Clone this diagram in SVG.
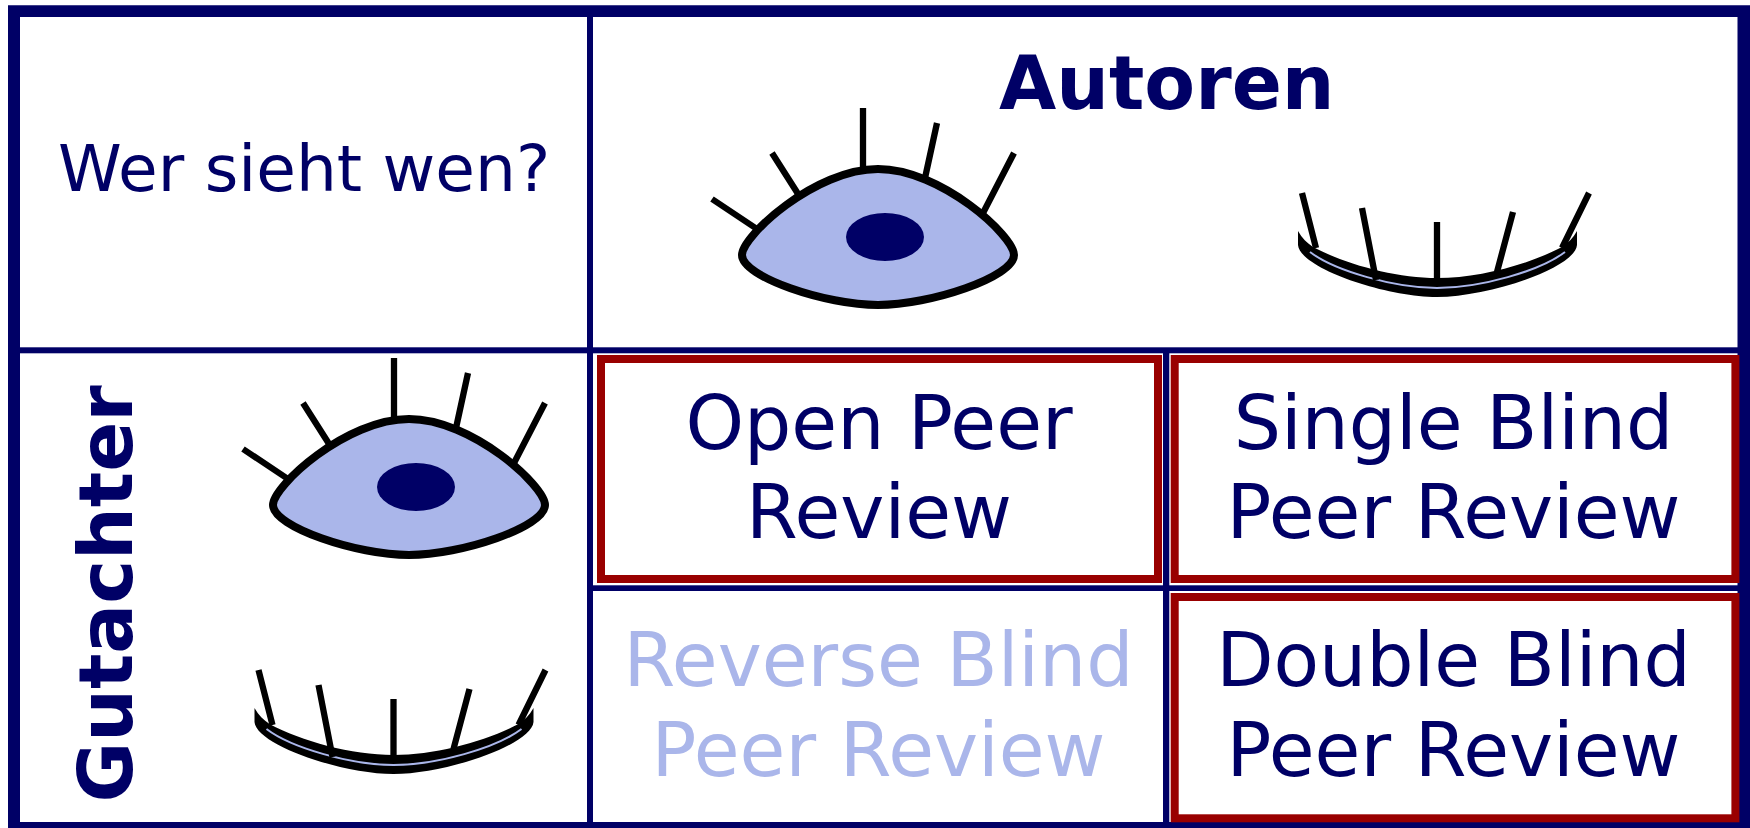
<svg xmlns="http://www.w3.org/2000/svg" width="1750" height="828" viewBox="0 0 1750 828">
<style>
text{font-family:"DejaVu Sans",Verdana,sans-serif;fill:#000066}
.c{text-anchor:middle;font-size:74.5px}
.b{font-weight:bold;font-size:74px}
.lash{stroke:#000;stroke-width:6.300;fill:none}
.lid{fill:#aab6ea;stroke:#000;stroke-width:8;stroke-linejoin:round}
.red{fill:none;stroke:#990000;stroke-width:8}
.nav{fill:#000066}
</style>
<defs>
<g id="open">
<path class="lid" d="M742 255C742 236 815 169 878 169C941 169 1014 236 1014 255C1014 277 930 305 878 305C826 305 742 277 742 255Z"/>
<ellipse class="nav" cx="885" cy="237" rx="39" ry="24"/>
<path class="lash" d="M863 108V168M937 123L925 178M1014 153L983 213M772 153L800 197M712 199L757 229"/>
</g>
<g id="closed">
<path fill="#000" d="M1298 231V245C1300 268 1385 297 1437 297C1489 297 1575 268 1577 245V231C1573 238 1568 243 1562 247C1530 264 1480 278 1437 278C1395 278 1345 264 1313 247C1307 243 1302 238 1298 231Z"/>
<path d="M1310 252C1335 271 1395 288 1437 288C1480 288 1540 271 1565 252" fill="none" stroke="#aab6ea" stroke-width="2"/>
<path class="lash" d="M1302 193L1316 248M1362 208L1376 280M1437 222V280M1513 212L1497 272M1589 193L1562 248"/>
</g>
</defs>
<rect width="1750" height="828" fill="#fff"/>
<g id="grid">
<path class="nav" d="M8 5.300H1750V828H8ZM20 17V822H1737.500V17Z" fill-rule="evenodd"/>
<rect class="nav" x="587" y="17" width="6" height="805"/>
<rect class="nav" x="20" y="347.300" width="1718" height="6"/>
<rect class="nav" x="593" y="585.300" width="1145" height="5.700"/>
<rect class="nav" x="1163" y="353" width="6.300" height="469"/>
</g>
<g id="open-peer-review"><rect class="red" x="601" y="359" width="557" height="220"/>
<text class="c" x="879" y="449">Open Peer</text><text class="c" x="879" y="538">Review</text></g>
<g id="single-blind"><rect class="red" x="1174.700" y="359" width="560.700" height="220"/>
<text class="c" x="1453.500" y="449">Single Blind</text><text class="c" x="1453.500" y="538">Peer Review</text></g>
<g id="reverse-blind"><text class="c" style="fill:#aab6ea" x="878.500" y="686">Reverse Blind</text><text class="c" style="fill:#aab6ea" x="878.500" y="776">Peer Review</text></g>
<g id="double-blind"><rect class="red" x="1174.700" y="597" width="560.700" height="221.300"/>
<text class="c" x="1453.500" y="686">Double Blind</text><text class="c" x="1453.500" y="776">Peer Review</text></g>
<g id="wer"><text x="58" y="191" font-size="64.500">Wer sieht wen?</text></g>
<g id="autoren"><text class="b" x="999" y="109">Autoren</text><use href="#open"/><use href="#closed"/></g>
<g id="gutachter"><text class="b" transform="translate(132 802.500) rotate(-90)">Gutachter</text><use href="#open" x="-469" y="250"/><use href="#closed" x="-1043.500" y="477"/></g>
</svg>
